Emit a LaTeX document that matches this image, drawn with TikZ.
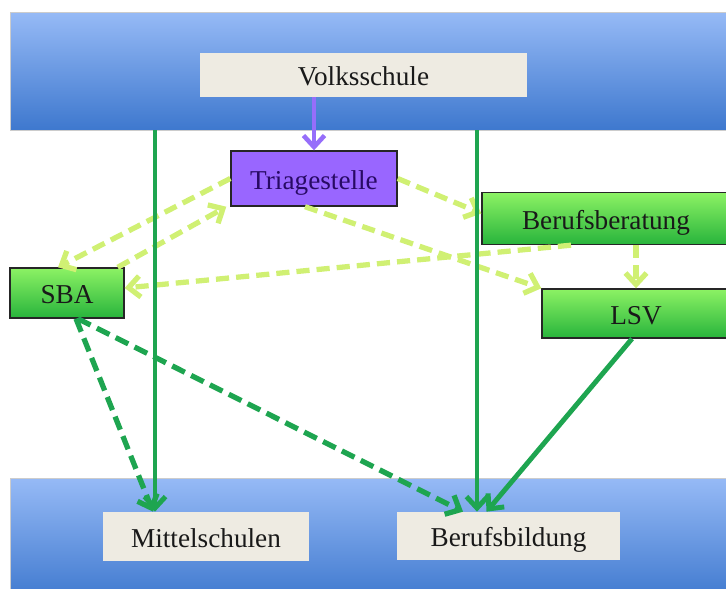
\documentclass[tikz,border=0pt]{standalone}
\usepackage{fontspec}
\setmainfont{Liberation Serif}
\usetikzlibrary{arrows.meta}

\definecolor{bandtop}{RGB}{150,186,246}
\definecolor{bandbot}{RGB}{62,120,206}
\definecolor{boxgrey}{RGB}{238,235,226}
\definecolor{triage}{RGB}{153,102,255}
\definecolor{triagetext}{RGB}{40,10,100}
\definecolor{greentop}{RGB}{140,242,100}
\definecolor{greenbot}{RGB}{40,180,60}
\definecolor{lightdash}{RGB}{208,240,115}
\definecolor{darkgreen}{RGB}{30,165,80}
\definecolor{purpleline}{RGB}{150,110,250}

\tikzset{
	band/.style={draw=black!20, top color=bandtop, bottom color=bandbot,
		minimum width=14.52cm, inner sep=0pt},
	boxtext/.style={font=\fontsize{15.5}{18}\selectfont, text height=12.5pt, text depth=0pt},
	greybox/.style={boxtext, fill=boxgrey, inner sep=0pt, text=black!90},
	greenbox/.style={boxtext, draw=black!85, line width=0.8pt, top color=greentop,
		bottom color=greenbot, inner sep=0pt, text=black!90},
	purplebox/.style={boxtext, draw=black!85, line width=0.8pt, fill=triage,
		inner sep=0pt, text=triagetext},
	tip/.style={-{Straight Barb[length=6.5pt,width=12pt]}},
	solidarrow/.style={tip, darkgreen, line width=2.8pt},
	darkdash/.style={tip, darkgreen, line width=3pt, dash pattern=on 8pt off 4pt},
	lightarrow/.style={tip, lightdash, line width=3pt, dash pattern=on 7.5pt off 4pt},
}

\begin{document}
\begin{tikzpicture}[x=0.02cm, y=-0.02cm]
	\useasboundingbox (0,0) rectangle (726,588);
	\clip (0,0) rectangle (726,588);
	% bands
	\node[band, minimum height=2.36cm] (upper) at (373,71) {};
	\node[band, minimum height=2.48cm] (lower) at (373,540) {};
	% boxes
	\node[greybox, minimum width=6.54cm, minimum height=0.88cm] (volks) at (363.5,75) {Volksschule};
	\node[purplebox, minimum width=3.32cm, minimum height=1.1cm] (triage) at (314,178.5) {Triagestelle};
	\node[greenbox, minimum width=4.96cm, minimum height=1.04cm] (beratung) at (606,218.5) {Berufsberatung};
	\node[greenbox, minimum width=3.76cm, minimum height=0.98cm] (lsv) at (636,313.5) {LSV};
	\node[greenbox, minimum width=2.28cm, minimum height=1cm] (sba) at (67,293) {SBA};
	\node[greybox, minimum width=4.12cm, minimum height=0.98cm] (mittel) at (206,536.5) {Mittelschulen};
	\node[greybox, minimum width=4.46cm, minimum height=0.96cm] (bildung) at (508.5,536) {Berufsbildung};
	\coordinate (leftline) at (155,0);
	\coordinate (rightline) at (477,0);
	% light dashed arrows
	\draw[lightarrow] (triage.west) -- ([xshift=-0.18cm]sba.north);
	\draw[lightarrow] ([xshift=-0.14cm]sba.north east) -- ([xshift=-0.08cm]triage.south west);
	\draw[lightarrow] ([xshift=-0.7cm]beratung.south) -- ([yshift=0.1cm]sba.east);
	\draw[lightarrow] ([xshift=-0.18cm]triage.south) -- (lsv.north west);
	\draw[lightarrow] (triage.east) -- ([yshift=0.1cm]beratung.west);
	\draw[lightarrow] (beratung.south -| lsv.north) -- (lsv.north);
	% dark dashed arrows
	\draw[darkdash] ([xshift=0.18cm]sba.south) -- ([xshift=-1.06cm]mittel.north);
	\draw[darkdash] ([xshift=0.22cm]sba.south) -- ([xshift=-0.91cm]bildung.north);
	% solid arrows
	\draw[purpleline, line width=2.6pt, tip] (volks.south -| triage.north) -- (triage.north);
	\draw[solidarrow] (upper.south -| leftline) -- (mittel.north -| leftline);
	\draw[solidarrow] (upper.south -| rightline) -- (bildung.north -| rightline);
	\draw[solidarrow] ([xshift=-0.08cm]lsv.south) -- ([xshift=-0.44cm]bildung.north);
\end{tikzpicture}
\end{document}
